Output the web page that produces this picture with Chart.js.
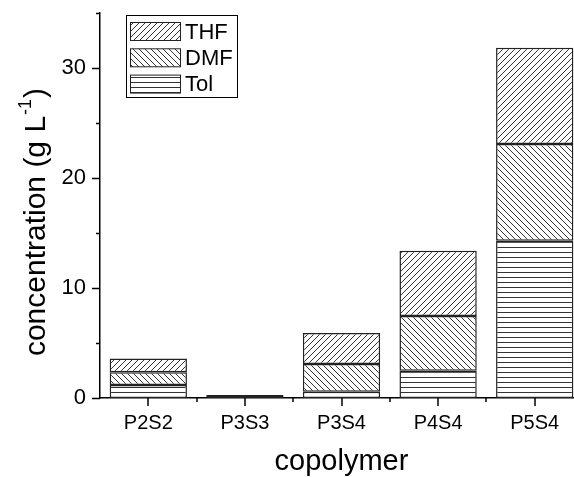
<!DOCTYPE html>
<html>
<head>
<meta charset="utf-8">
<script src="https://cdn.jsdelivr.net/npm/chart.js@4.4.1/dist/chart.umd.min.js"></script>
<style>
html, body { margin: 0; padding: 0; overflow: hidden; background: #fff; }
#wrap { width: 600px; height: 477px; }
</style>
</head>
<body>
<div id="wrap"><canvas id="chart"></canvas></div>
<script>
// values (g/L), stacked Tol -> DMF -> THF
const copolymers = ["P2S2", "P3S3", "P3S4", "P4S4", "P5S4"];
const tolValues = [1.18, 0.1, 0.57, 2.48, 14.3];
const dmfValues = [1.15, 0.08, 2.53, 4.98, 8.8];
const thfValues = [1.27, 0.09, 2.82, 5.93, 8.75];
const yTicks = [0, 10, 20, 30];

const FONT = "'Liberation Sans', Arial, sans-serif";

function hatch(kind) {
  const c = document.createElement("canvas");
  const s = kind == "h" ? 5 : 6;
  c.width = s; c.height = s;
  const g = c.getContext("2d");
  g.fillStyle = "#fff";
  g.fillRect(0, 0, s, s);
  g.strokeStyle = "#333";
  g.lineWidth = 1;
  g.beginPath();
  if (kind == "h") {
    g.moveTo(0, 2.5); g.lineTo(s, 2.5);
  } else if (kind == "/") {
    g.moveTo(-1, s + 1); g.lineTo(s + 1, -1);
    g.moveTo(-1, 1); g.lineTo(1, -1);
    g.moveTo(s - 1, s + 1); g.lineTo(s + 1, s - 1);
  } else {
    g.moveTo(-1, -1); g.lineTo(s + 1, s + 1);
    g.moveTo(s - 1, -1); g.lineTo(s + 1, 1);
    g.moveTo(-1, s - 1); g.lineTo(1, s + 1);
  }
  g.stroke();
  return g.createPattern(c, "repeat");
}

const patTol = hatch("h");
const patDmf = hatch("\\");
const patThf = hatch("/");

// ticks drawn by hand so minor ones can be shorter
const tickMarks = {
  id: "tickMarks",
  afterDraw(chart) {
    const ctx = chart.ctx;
    const y = chart.scales.y, x = chart.scales.x;
    const area = chart.chartArea;
    ctx.save();
    ctx.strokeStyle = "#000";
    ctx.lineWidth = 1.5;
    ctx.beginPath();
    for (let v = 0; v <= 35; v += 5) {
      const py = Math.round(y.getPixelForValue(v)) + 0.5;
      const len = v % 10 == 0 ? 8 : 4;
      ctx.moveTo(area.left, py); ctx.lineTo(area.left - len, py);
    }
    for (let i = 0; i < copolymers.length; i++) {
      const px = Math.round(x.getPixelForValue(i));
      ctx.moveTo(px, area.bottom); ctx.lineTo(px, area.bottom + 8);
      if (i > 0) {
        const pm = Math.round(x.getPixelForValue(i - 0.5));
        ctx.moveTo(pm, area.bottom); ctx.lineTo(pm, area.bottom + 4);
      }
    }
    ctx.stroke();

    // y title with a raised -1
    ctx.fillStyle = "#000";
    ctx.textBaseline = "middle";
    ctx.textAlign = "left";
    const big = "30px " + FONT, small = "18px " + FONT;
    const a = "concentration (g L", b = "-1", c = ")";
    ctx.font = big; const wa = ctx.measureText(a).width, wc = ctx.measureText(c).width;
    ctx.font = small; const wb = ctx.measureText(b).width;
    const w = wa + wb + wc + 2;
    ctx.translate(37, 222);
    ctx.rotate(-Math.PI / 2);
    ctx.font = big;
    ctx.fillText(a, -w / 2, 0);
    ctx.font = small;
    ctx.fillText(b, -w / 2 + wa + 1, -11);
    ctx.font = big;
    ctx.fillText(c, -w / 2 + wa + wb + 2, 0);
    ctx.restore();
  }
};

const boxLegend = {
  id: "boxLegend",
  afterDraw(chart) {
    const ctx = chart.ctx;
    ctx.save();
    ctx.strokeStyle = "#000";
    ctx.lineWidth = 1;
    ctx.fillStyle = "#fff";
    ctx.fillRect(126.5, 15.5, 111, 82);
    ctx.strokeRect(126.5, 15.5, 111, 82);
    const order = [2, 1, 0];
    order.forEach((di, row) => {
      const ds = chart.data.datasets[di];
      const top = 22.5 + row * 26.3;
      ctx.fillStyle = ds.backgroundColor;
      ctx.fillRect(130.5, top, 50, 18);
      ctx.strokeStyle = "#222";
      ctx.strokeRect(130.5, top, 50, 18);
      ctx.fillStyle = "#000";
      ctx.font = "22px " + FONT;
      ctx.textBaseline = "middle";
      ctx.fillText(ds.label, 185, top + 10);
    });
    ctx.restore();
  }
};

function bar(label, data, pat) {
  return {
    label: label,
    data: data,
    backgroundColor: pat,
    borderColor: "#222",
    borderWidth: 1.5,
    borderSkipped: false,
    categoryPercentage: 1,
    barPercentage: 0.8,
    stack: "all"
  };
}

new Chart(document.getElementById("chart"), {
  type: "bar",
  data: {
    labels: copolymers,
    datasets: [
      bar("Tol", tolValues, patTol),
      bar("DMF", dmfValues, patDmf),
      bar("THF", thfValues, patThf)
    ]
  },
  options: {
    responsive: true,
    maintainAspectRatio: false,
    animation: false,
    layout: { padding: { top: 13, right: 17, left: 0, bottom: 0 } },
    plugins: { legend: { display: false }, tooltip: { enabled: false } },
    scales: {
      x: {
        stacked: true,
        afterFit: s => { s.height = 79; s.paddingLeft = 0; s.paddingRight = 0; },
        grid: { display: false, drawTicks: true, tickLength: 8 },
        border: { display: true, color: "#000", width: 1.5 },
        ticks: { color: "#000", padding: 5, font: { family: FONT, size: 20 } },
        title: {
          display: true, text: "copolymer", color: "#000",
          font: { family: FONT, size: 29 }, padding: { top: 0, bottom: -2 }
        }
      },
      y: {
        stacked: true,
        min: 0, max: 35,
        afterFit: s => { s.width = 100; s.paddingTop = 0; s.paddingBottom = 0; },
        grid: { display: false, drawTicks: true, tickLength: 8 },
        border: { display: true, color: "#000", width: 1.5 },
        ticks: {
          stepSize: 5, color: "#000", padding: 6,
          font: { family: FONT, size: 22 },
          callback: v => yTicks.includes(v) ? v : ""
        }
      }
    }
  },
  plugins: [tickMarks, boxLegend]
});
</script>
</body>
</html>
